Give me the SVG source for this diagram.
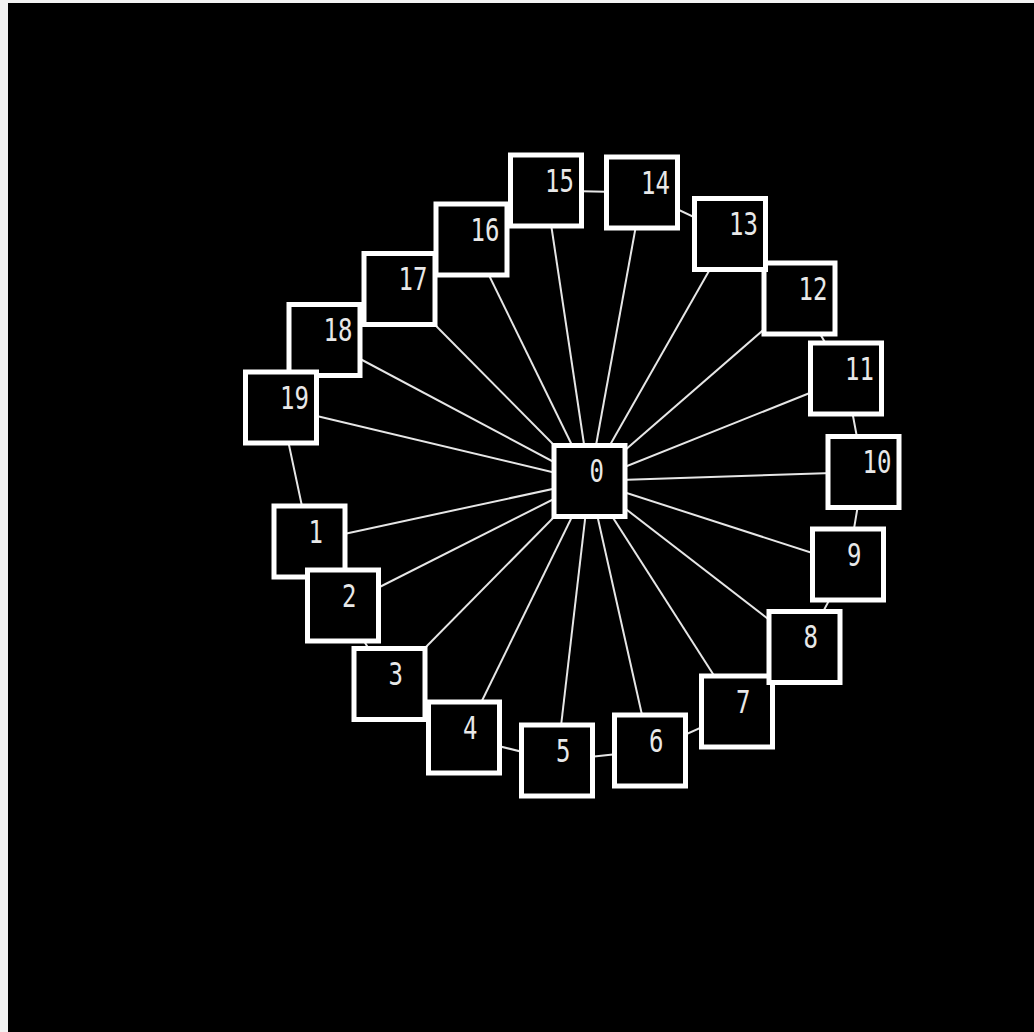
<svg xmlns="http://www.w3.org/2000/svg" width="1034" height="1032" viewBox="0 0 1034 1032">
<style>
.edge{stroke:#e6e6e6;stroke-width:2;fill:none}
.box{fill:#000;stroke:#ffffff;stroke-width:5}
.lbl{fill:#e8e8e8;font-family:"DejaVu Sans Mono","Liberation Mono",monospace;font-size:24px}
</style>
<rect x="0" y="0" width="1034" height="1032" fill="#f2f2f2"/>
<rect x="8" y="3" width="1026" height="1029" fill="#000"/>
<g id="connectors">
<line class="edge" x1="589.5" y1="481" x2="309.5" y2="541.5"/>
<line class="edge" x1="589.5" y1="481" x2="343" y2="605.5"/>
<line class="edge" x1="589.5" y1="481" x2="389.5" y2="684"/>
<line class="edge" x1="589.5" y1="481" x2="464" y2="737.5"/>
<line class="edge" x1="589.5" y1="481" x2="557" y2="760.5"/>
<line class="edge" x1="589.5" y1="481" x2="650" y2="750.5"/>
<line class="edge" x1="589.5" y1="481" x2="737" y2="711.5"/>
<line class="edge" x1="589.5" y1="481" x2="804.5" y2="647"/>
<line class="edge" x1="589.5" y1="481" x2="848" y2="564.5"/>
<line class="edge" x1="589.5" y1="481" x2="863.5" y2="472"/>
<line class="edge" x1="589.5" y1="481" x2="846" y2="378.5"/>
<line class="edge" x1="589.5" y1="481" x2="799.5" y2="298.5"/>
<line class="edge" x1="589.5" y1="481" x2="730" y2="234"/>
<line class="edge" x1="589.5" y1="481" x2="642" y2="192.5"/>
<line class="edge" x1="589.5" y1="481" x2="546" y2="190.5"/>
<line class="edge" x1="589.5" y1="481" x2="471.5" y2="239.5"/>
<line class="edge" x1="589.5" y1="481" x2="399.5" y2="289"/>
<line class="edge" x1="589.5" y1="481" x2="324.5" y2="340"/>
<line class="edge" x1="589.5" y1="481" x2="281" y2="407.5"/>
<polyline class="edge" points="309.5,541.5 343,605.5 389.5,684 464,737.5 557,760.5 650,750.5 737,711.5 804.5,647 848,564.5 863.5,472 846,378.5 799.5,298.5 730,234 642,192.5 546,190.5 471.5,239.5 399.5,289 324.5,340 281,407.5 309.5,541.5"/>
</g>
<g id="n0"><rect class="box" x="554" y="445.5" width="71" height="71"/><text class="lbl" transform="translate(589.5,482) scale(1,1.35)">0</text></g>
<g id="n1"><rect class="box" x="274" y="506" width="71" height="71"/><text class="lbl" transform="translate(308.5,542.5) scale(1,1.35)">1</text></g>
<g id="n2"><rect class="box" x="307.5" y="570" width="71" height="71"/><text class="lbl" transform="translate(342,606.5) scale(1,1.35)">2</text></g>
<g id="n3"><rect class="box" x="354" y="648.5" width="71" height="71"/><text class="lbl" transform="translate(388.5,685) scale(1,1.35)">3</text></g>
<g id="n4"><rect class="box" x="428.5" y="702" width="71" height="71"/><text class="lbl" transform="translate(463,738.5) scale(1,1.35)">4</text></g>
<g id="n5"><rect class="box" x="521.5" y="725" width="71" height="71"/><text class="lbl" transform="translate(556,761.5) scale(1,1.35)">5</text></g>
<g id="n6"><rect class="box" x="614.5" y="715" width="71" height="71"/><text class="lbl" transform="translate(649,751.5) scale(1,1.35)">6</text></g>
<g id="n7"><rect class="box" x="701.5" y="676" width="71" height="71"/><text class="lbl" transform="translate(736,712.5) scale(1,1.35)">7</text></g>
<g id="n8"><rect class="box" x="769" y="611.5" width="71" height="71"/><text class="lbl" transform="translate(803.5,648) scale(1,1.35)">8</text></g>
<g id="n9"><rect class="box" x="812.5" y="529" width="71" height="71"/><text class="lbl" transform="translate(847,565.5) scale(1,1.35)">9</text></g>
<g id="n10"><rect class="box" x="828" y="436.5" width="71" height="71"/><text class="lbl" transform="translate(862.5,473) scale(1,1.35)">10</text></g>
<g id="n11"><rect class="box" x="810.5" y="343" width="71" height="71"/><text class="lbl" transform="translate(845,379.5) scale(1,1.35)">11</text></g>
<g id="n12"><rect class="box" x="764" y="263" width="71" height="71"/><text class="lbl" transform="translate(798.5,299.5) scale(1,1.35)">12</text></g>
<g id="n13"><rect class="box" x="694.5" y="198.5" width="71" height="71"/><text class="lbl" transform="translate(729,235) scale(1,1.35)">13</text></g>
<g id="n14"><rect class="box" x="606.5" y="157" width="71" height="71"/><text class="lbl" transform="translate(641,193.5) scale(1,1.35)">14</text></g>
<g id="n15"><rect class="box" x="510.5" y="155" width="71" height="71"/><text class="lbl" transform="translate(545,191.5) scale(1,1.35)">15</text></g>
<g id="n16"><rect class="box" x="436" y="204" width="71" height="71"/><text class="lbl" transform="translate(470.5,240.5) scale(1,1.35)">16</text></g>
<g id="n17"><rect class="box" x="364" y="253.5" width="71" height="71"/><text class="lbl" transform="translate(398.5,290) scale(1,1.35)">17</text></g>
<g id="n18"><rect class="box" x="289" y="304.5" width="71" height="71"/><text class="lbl" transform="translate(323.5,341) scale(1,1.35)">18</text></g>
<g id="n19"><rect class="box" x="245.5" y="372" width="71" height="71"/><text class="lbl" transform="translate(280,408.5) scale(1,1.35)">19</text></g>
</svg>
